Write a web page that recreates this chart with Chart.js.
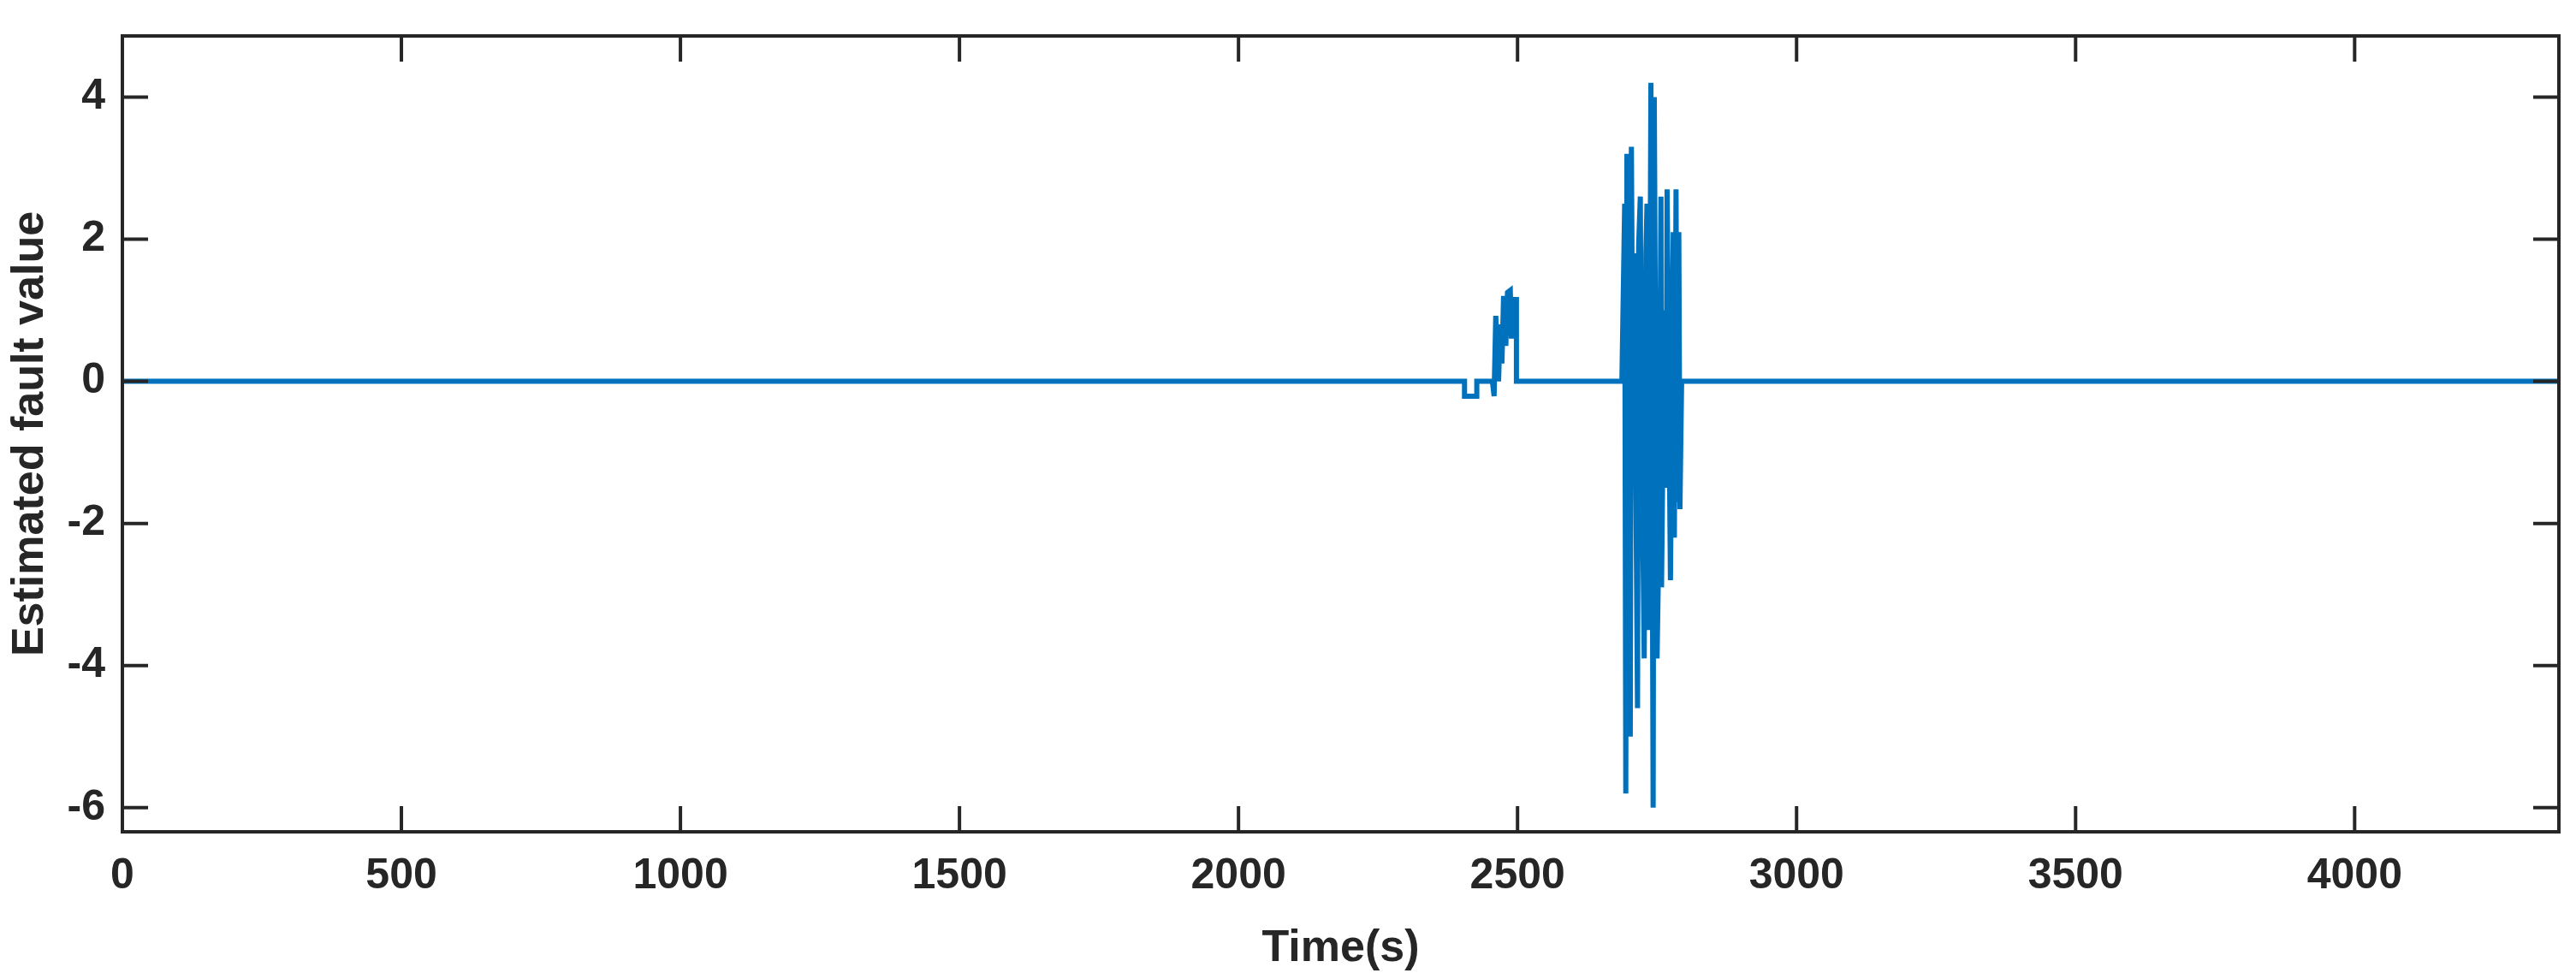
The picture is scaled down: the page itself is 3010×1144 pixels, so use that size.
<!DOCTYPE html>
<html><head><meta charset="utf-8">
<script src="https://cdn.jsdelivr.net/npm/chart.js@4"></script>
<style>html,body{margin:0;padding:0;background:#fff}#w{width:3010px;height:1144px}</style>
</head><body><div id="w"><canvas id="c"></canvas></div>
<script>
const times = [0,2405,2405,2427,2427,2455,2458,2461,2466,2469,2472,2475,2479,2482,2487,2489,2492,2498,2498,2687,
 2692,2694,2696,2702,2704,2707,2709,2715,2717,2720,2722,2727,2730,2732,2735,2739,2743,2745,2750,2753,2757,2758,2763,2766,2768,2774,2779,2781,2784,2786,2789,2791,2794,4366];
const faultValues = [0,0,-0.21,-0.21,0,0,-0.21,0.92,0,0.8,0.25,1.2,0.5,1.25,1.28,0.6,1.15,1.15,0,0,
 2.5,-5.8,3.2,-5.0,3.3,-0.9,1.8,-4.6,1.9,2.6,-0.5,-3.9,1.8,2.5,-3.5,4.2,-6.0,4.0,-3.9,-2.4,2.6,-2.9,1.0,-1.5,2.7,-2.8,2.1,-2.2,2.7,-1.7,2.1,-1.8,0,0];
const xTicks = [0,500,1000,1500,2000,2500,3000,3500,4000];
const yTicks = [-6,-4,-2,0,2,4];
const font = {family:'"Liberation Sans", Arial, sans-serif', weight:'bold', size:50};
const ink = '#262626';
const boxPlugin = {id:'box', afterDraw(ch){
  const {ctx, chartArea:a, scales:{x,y}} = ch;
  ctx.save(); ctx.strokeStyle = ink; ctx.lineWidth = 4;
  ctx.strokeRect(a.left, a.top, a.right-a.left, a.bottom-a.top);
  const L = 30;
  ctx.beginPath();
  xTicks.forEach(v=>{const p=x.getPixelForValue(v); ctx.moveTo(p,a.bottom); ctx.lineTo(p,a.bottom-L); ctx.moveTo(p,a.top); ctx.lineTo(p,a.top+L);});
  yTicks.forEach(v=>{const p=y.getPixelForValue(v); ctx.moveTo(a.left,p); ctx.lineTo(a.left+L,p); ctx.moveTo(a.right,p); ctx.lineTo(a.right-L,p);});
  ctx.stroke(); ctx.restore();
}};
new Chart(document.getElementById('c'), {
  type:'line',
  data:{datasets:[{data:times.map((t,i)=>({x:t,y:faultValues[i]})), borderColor:'#0072BD', borderWidth:6, pointRadius:0, tension:0, fill:false}]},
  options:{responsive:true, maintainAspectRatio:false, animation:false,
    layout:{padding:{top:27,right:20,left:0,bottom:0}},
    plugins:{legend:{display:false}, tooltip:{enabled:false}},
    scales:{
      x:{type:'linear', min:0, max:4366, grid:{display:false}, border:{display:false},
        afterBuildTicks(s){s.ticks = xTicks.map(v=>({value:v}));},
        afterFit(s){s.height = 172;},
        ticks:{color:ink, font, padding:14, maxRotation:0, callback:v=>String(v)},
        title:{display:true, text:'Time(s)', color:ink, font:{...font, size:52}, padding:{top:4}}},
      y:{min:-6.34, max:4.86, grid:{display:false}, border:{display:false},
        afterBuildTicks(s){s.ticks = yTicks.map(v=>({value:v}));},
        afterFit(s){s.width = 143;},
        ticks:{color:ink, font, padding:12, callback:v=>String(v)},
        title:{display:true, text:'Estimated fault value', color:ink, font:{...font, size:52}, padding:{bottom:2}}}
    }},
  plugins:[boxPlugin]
});
</script></body></html>
